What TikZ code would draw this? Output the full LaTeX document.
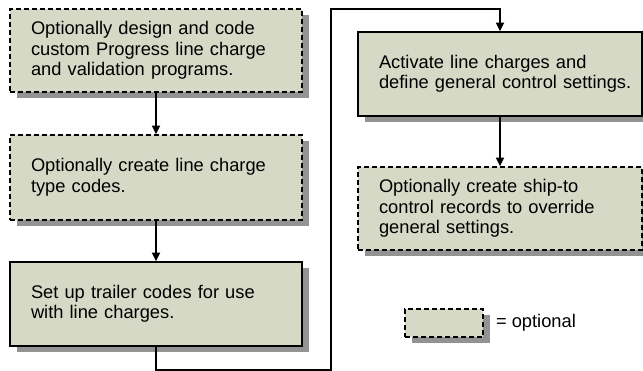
\documentclass[tikz,border=0pt]{standalone}
\usepackage{fontspec}
\setmainfont{Liberation Sans}
\usepackage{tikz}
\definecolor{boxfill}{HTML}{D7D9C7}
\definecolor{shade}{HTML}{939393}
\usetikzlibrary{arrows.meta,positioning,shadows}

\begin{document}
\begin{tikzpicture}[x=1pt,y=-1pt,
  stepbox/.style={rectangle,draw=black,line width=1.6pt,fill=boxfill,inner sep=0pt,
    text width=#1,minimum height=84pt,align=left,font=\fontsize{18.3}{20.5}\selectfont,
    execute at begin node={\leftskip=21pt},
    drop shadow={shadow xshift=6.5pt,shadow yshift=-6.5pt,fill=shade,opacity=1}},
  optbox/.style={stepbox=#1,dash pattern=on 5pt off 3pt},
  flow/.style={line width=1.7pt,-{Triangle[length=8.5pt,width=8pt]}}]
\useasboundingbox (0,0) rectangle (643,371);
% left column
\node[optbox=292pt,minimum height=83pt] (design) at (156,50.5) {Optionally design and code\\custom Progress line charge\\and validation programs.};
\node[optbox=292pt,minimum height=85pt] (typecodes) at (156,177.5) {Optionally create line charge\\type codes.};
\node[stepbox=292pt] (trailer) at (156,304) {Set up trailer codes for use\\with line charges.};
% right column
\node[stepbox=284pt] (activate) at (500,74) {Activate line charges and\\define general control settings.};
\node[optbox=284pt,minimum height=83pt] (shipto) at (500,208.5) {Optionally create ship-to\\control records to override\\general settings.};
% legend
\node[optbox=78pt,minimum height=28pt] (legend) at (444,323) {};
\node[right=12pt of legend,inner sep=0pt,font=\fontsize{18.3}{20.5}\selectfont] (optlabel) {= optional};
% connectors
\coordinate (low) at (331,370);
\coordinate (high) at (331,9);
\draw[flow] (design.south) -- (typecodes.north);
\draw[flow] (typecodes.south) -- (trailer.north);
\draw[flow] (trailer.south) |- (low) -- (high) -| (activate.north);
\draw[flow] (activate.south) -- (shipto.north);
\end{tikzpicture}
\end{document}
